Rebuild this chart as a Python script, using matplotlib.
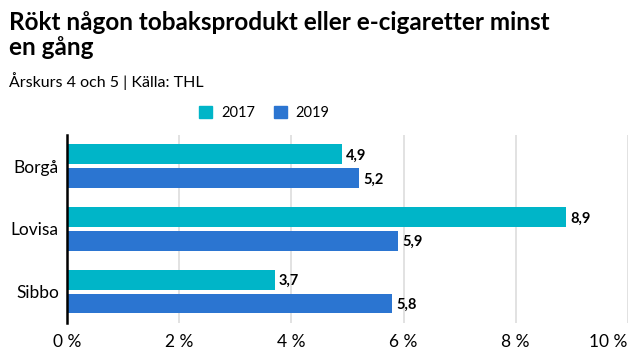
import matplotlib.pyplot as plt
from matplotlib.patches import Patch
import numpy as np

plt.rcParams['font.family'] = ['Lato', 'DejaVu Sans']

kommuner = ['Borgå', 'Lovisa', 'Sibbo']
ar = ['2017', '2019']
andel_2017 = [4.9, 8.9, 3.7]
andel_2019 = [5.2, 5.9, 5.8]
xticks = [0, 2, 4, 6, 8, 10]

farger = ['#00b5c8', '#2b75d1']

fig = plt.figure(figsize=(6.4, 3.6), dpi=100)
ax = fig.add_axes([0.105, 0.103, 0.876, 0.522])

y = np.arange(len(kommuner))
h = 0.317
off = 0.19
for vals, dy, c in [(andel_2017, -off, farger[0]), (andel_2019, off, farger[1])]:
    bars = ax.barh(y + dy, vals, height=h, color=c, zorder=3)
    for b, v in zip(bars, vals):
        ax.annotate(f"{v:.1f}".replace('.', ','), (v, b.get_y() + b.get_height() / 2),
                    xytext=(3, -1), textcoords='offset points', va='center', ha='left',
                    fontsize=10.5, fontweight='bold')

ax.set_ylim(2.5, -0.5)
ax.set_xlim(0, 10)
ax.set_yticks(y)
ax.set_yticklabels(kommuner, fontsize=12.5)
ax.set_xticks(xticks)
ax.set_xticklabels([f"{t} %" for t in xticks], fontsize=12.5)
ax.tick_params(length=0, pad=6)
ax.tick_params(axis='x', pad=8)
ax.grid(axis='x', color='#dddddd', linewidth=1.2, zorder=0)
for s in ['top', 'right', 'bottom']:
    ax.spines[s].set_visible(False)
ax.spines['left'].set_linewidth(1.8)
ax.spines['left'].set_zorder(4)
xl = ax.get_xticklabels()
xl[-1].set_ha('right')
xl[-1].set_x(10)

fig.text(0.014, 0.97, 'Rökt någon tobaksprodukt eller e-cigaretter minst\nen gång',
         fontsize=17.5, fontweight='bold', va='top', linespacing=1.1)
fig.text(0.014, 0.775, 'Årskurs 4 och 5 | Källa: THL', fontsize=11.5, va='center')

handles = [Patch(color=c, label=l) for c, l in zip(farger, ar)]
fig.legend(handles=handles, loc='center', bbox_to_anchor=(0.413, 0.686), ncol=2,
           frameon=False, fontsize=10.5, handlelength=0.9, handleheight=0.9,
           columnspacing=1.3, handletextpad=0.6)

fig.savefig('out.png', dpi=100)
